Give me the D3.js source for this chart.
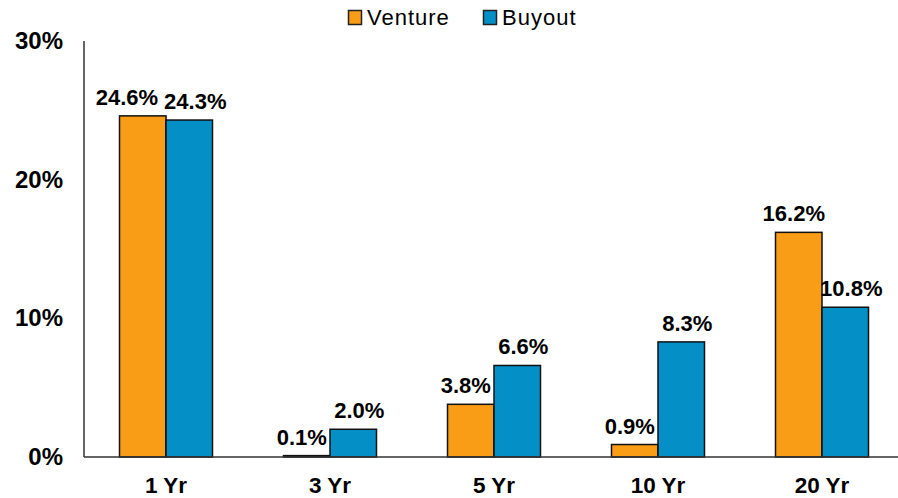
<!DOCTYPE html>
<html>
<head>
<meta charset="utf-8">
<script src="https://cdn.jsdelivr.net/npm/d3@7"></script>
<style>
  body { margin: 0; background: #fff; }
  svg { display: block; font-family: "Liberation Sans", Arial, sans-serif; }
</style>
</head>
<body>
<svg width="898" height="498"></svg>
<script>
var categories = ["1 Yr", "3 Yr", "5 Yr", "10 Yr", "20 Yr"];
var seriesNames = ["Venture", "Buyout"];
var venture = [24.6, 0.1, 3.8, 0.9, 16.2];
var buyout = [24.3, 2.0, 6.6, 8.3, 10.8];
var yTicks = [0, 10, 20, 30];

var colors = ["#f99d16", "#058fc7"];

var svg = d3.select("svg"),
    margin = {top: 41, right: 0, bottom: 41, left: 84},
    height = +svg.attr("height") - margin.top - margin.bottom;

var data = categories.map(function(c, i) {
  return {name: c, values: [venture[i], buyout[i]]};
});

var x0 = d3.scaleBand()
    .domain(categories)
    .range([margin.left, margin.left + 5 * 164])
    .padding(0);

var x1 = d3.scaleBand()
    .domain(seriesNames)
    .range([-46.5, 46.5]);

var y = d3.scaleLinear()
    .domain([0, 30])
    .range([margin.top + height, margin.top]);

var base = y(0);

// y axis line
svg.append("line")
    .attr("x1", margin.left).attr("x2", margin.left)
    .attr("y1", y(30)).attr("y2", base)
    .attr("stroke", "#333").attr("stroke-width", 1.5);

// tick labels
svg.append("g")
  .selectAll("text")
  .data(yTicks)
  .enter().append("text")
    .attr("x", 63)
    .attr("y", function(d) { return y(d) + 1.5; })
    .attr("text-anchor", "end")
    .attr("dominant-baseline", "middle")
    .attr("font-size", 24)
    .attr("font-weight", "bold")
    .text(function(d) { return d + "%"; });

// bars
var groups = svg.append("g")
  .selectAll("g")
  .data(data)
  .enter().append("g")
    .attr("transform", function(d) { return "translate(" + (x0(d.name) + x0.bandwidth() / 2) + ",0)"; });

function pairs(d) {
  return d.values.map(function(v, i) { return {key: seriesNames[i], value: v, i: i}; });
}

groups.selectAll("rect")
  .data(pairs)
  .enter().append("rect")
    .attr("x", function(d) { return x1(d.key); })
    .attr("y", function(d) { return y(d.value); })
    .attr("width", x1.bandwidth())
    .attr("height", function(d) { return base - y(d.value); })
    .attr("fill", function(d) { return colors[d.i]; })
    .attr("stroke", "#111")
    .attr("stroke-width", 1.5);

// value labels
groups.each(function() {
  var labels = d3.select(this).selectAll("text")
    .data(pairs)
    .enter().append("text")
      .attr("x", function(d) { return x1(d.key) + x1.bandwidth() / 2 + (d.i === 0 ? -5 : 6); })
      .attr("y", function(d) { return y(d.value) - 11; })
      .attr("text-anchor", "middle")
      .attr("font-size", 22)
      .attr("font-weight", "bold")
      .text(function(d) { return d.value.toFixed(1) + "%"; });

  // push apart labels that collide
  var n = labels.nodes(),
      a = n[0].getBBox(), b = n[1].getBBox(),
      overlap = a.x + a.width + 6 - b.x;
  var vOverlap = Math.min(a.y + a.height, b.y + b.height) - Math.max(a.y, b.y);
  if (overlap > 0 && vOverlap > 0) {
    d3.select(n[0]).attr("x", +d3.select(n[0]).attr("x") - overlap);
  }
});

// x axis baseline
svg.append("line")
    .attr("x1", margin.left).attr("x2", 898)
    .attr("y1", base).attr("y2", base)
    .attr("stroke", "#333").attr("stroke-width", 1.5);

// category labels
svg.append("g")
  .selectAll("text")
  .data(categories)
  .enter().append("text")
    .attr("x", function(d) { return x0(d) + x0.bandwidth() / 2; })
    .attr("y", 493)
    .attr("text-anchor", "middle")
    .attr("font-size", 22.5)
    .attr("font-weight", "bold")
    .text(function(d) { return d; });

// legend
var legend = svg.append("g")
  .selectAll("g")
  .data(seriesNames)
  .enter().append("g")
    .attr("transform", function(d, i) { return "translate(" + (348 + i * 135) + ",0)"; });

legend.append("rect")
    .attr("x", 0.5).attr("y", 10.5)
    .attr("width", 13).attr("height", 14)
    .attr("fill", function(d, i) { return colors[i]; })
    .attr("stroke", "#222")
    .attr("stroke-width", 1.5);

legend.append("text")
    .attr("x", 19)
    .attr("y", 25)
    .attr("font-size", 22)
    .attr("letter-spacing", 1)
    .text(function(d) { return d; });
</script>
</body>
</html>
